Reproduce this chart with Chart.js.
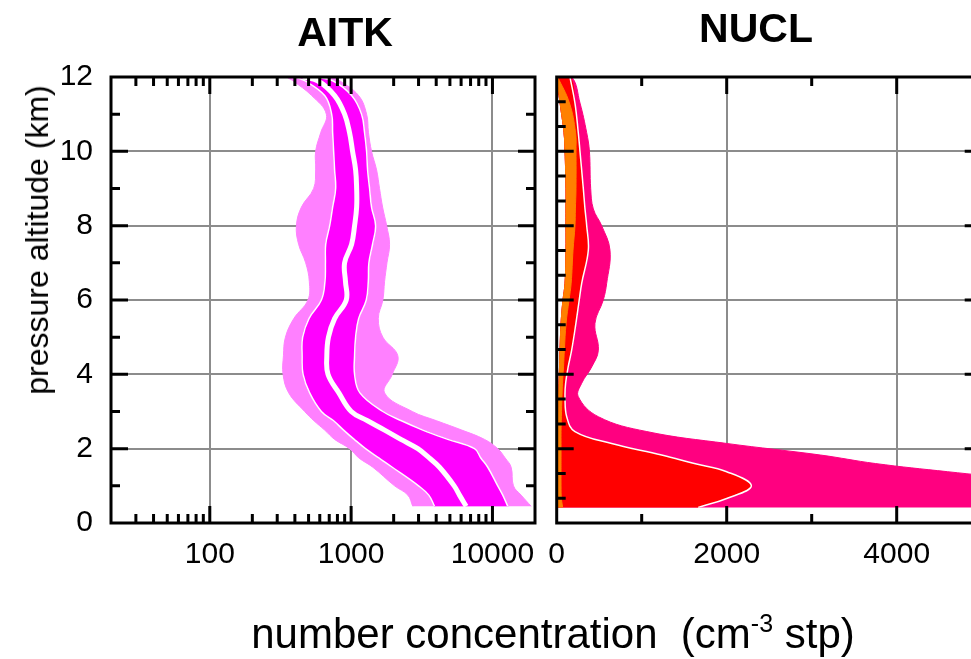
<!DOCTYPE html>
<html>
<head>
<meta charset="utf-8">
<script src="https://cdn.jsdelivr.net/npm/chart.js@4.4.1/dist/chart.umd.min.js"></script>
<style>
  html, body { margin: 0; padding: 0; background: #fff; }
  body {
    width: 971px; height: 659px; overflow: hidden; position: relative;
    font-family: "Liberation Sans", Arial, sans-serif; color: #000;
  }
  canvas { position: absolute; top: 0; }
  #aitk { left: 0; }
  #nucl { left: 530px; }
  .lbl { position: absolute; transform: translate(-50%, -50%); line-height: 1; white-space: nowrap; }
  .panel-title { font-weight: bold; font-size: 41px; }
  #ytitle { font-size: 32px; transform: translate(-50%, -50%) rotate(-90deg); }
  #xtitle { font-size: 42px; }
  #xtitle .sup { font-size: 25px; position: relative; top: -16px; }
</style>
</head>
<body>
<canvas id="aitk" width="550" height="659"></canvas>
<canvas id="nucl" width="468" height="659"></canvas>
<div class="lbl panel-title" style="left:345px;top:32px">AITK</div>
<div class="lbl panel-title" style="left:756px;top:28px">NUCL</div>
<div class="lbl" id="ytitle" style="left:37px;top:240px">pressure altitude (km)</div>
<div class="lbl" id="xtitle" style="left:553px;top:634px">number concentration&nbsp; (cm<span class="sup">-3</span> stp)</div>
<script>
// tick labels
const altTicks = [0, 2, 4, 6, 8, 10, 12];
const aitkTicks = [100, 1000, 10000];
const nuclTicks = [0, 2000, 4000];

// Aitken mode profile: percentiles of number concentration (cm-3 stp) by altitude (km)
const aitkAlt = [0.45, 0.75, 1, 1.5, 1.75, 2, 2.25, 2.5, 2.75, 3, 3.5, 4, 4.5, 5, 5.5, 6, 6.5, 7, 7.5, 8, 8.5, 9, 9.5, 10, 10.5, 11, 11.5, 11.9, 12];
const aitkP10 = [2730, 2520, 2030, 1425, 1135, 975, 764, 650, 546, 469, 362, 330, 332, 343, 393, 495, 506, 477, 425, 410, 445, 543, 561, 561, 609, 668, 526, 387, 355];
const aitkP25 = [3890, 3545, 3000, 1955, 1570, 1265, 1052, 885, 752, 616, 509, 457, 450, 454, 503, 616, 653, 658, 661, 705, 740, 777, 764, 752, 740, 728, 650, 469, 400];
const aitkMedian = [6520, 5845, 5360, 4221, 3570, 2965, 2250, 1725, 1306, 1002, 819, 686, 673, 691, 764, 924, 912, 899, 1008, 1058, 1094, 1094, 1076, 1024, 975, 899, 764, 580, 455];
const aitkP75 = [12830, 11830, 10900, 9265, 8270, 7462, 4830, 3215, 2270, 1677, 1154, 1058, 1058, 1076, 1130, 1280, 1323, 1336, 1418, 1490, 1395, 1351, 1308, 1287, 1245, 1186, 1008, 740, 540];
const aitkP90 = [18780, 15960, 14080, 13560, 12300, 10900, 8781, 6070, 4030, 2710, 1725, 1955, 2140, 1677, 1557, 1677, 1725, 1793, 1871, 1784, 1670, 1589, 1514, 1395, 1327, 1287, 1130, 829, 720];

// nucleation mode profile
const nuclAlt = [0.42, 0.66, 1.0, 1.38, 1.6, 1.83, 2.14, 2.46, 2.86, 3.4, 3.76, 4.2, 4.65, 5.37, 6.0, 6.45, 7.34, 8.0, 8.45, 9.0, 10.0, 10.5, 11.3, 12];
const nuclP10 = [4, 4, 4, 4, 4, 4, 4, 8, 15, 22, 27, 33, 39, 51, 74, 98, 109, 109, 109, 109, 98, 86, 40, 4];
const nuclP25 = [70, 55, 51, 51, 51, 51, 51, 51, 55, 62, 68, 80, 90, 110, 145, 170, 192, 215, 220, 227, 227, 222, 150, 10];
const nuclP75 = [1665, 2000, 2290, 2000, 1620, 1235, 647, 215, 118, 98, 105, 135, 176, 226, 265, 294, 372, 353, 333, 313, 274, 254, 215, 156];
const nuclP90 = [8000, 7500, 6200, 4600, 3750, 3100, 2000, 1060, 490, 254, 294, 412, 490, 450, 548, 588, 627, 529, 431, 400, 385, 353, 274, 176];

const FONT = "'Liberation Sans', Arial, sans-serif";
const GRID = '#8c8c8c';

const pts = (xs, alts) => xs.map((v, i) => ({ x: v, y: alts[i] }));
// closed outline: up the low edge, back down the high edge
const band = (lo, hi, alts) => pts(lo, alts).concat(pts(hi, alts).reverse());

const area = (data, color, order) => ({
  data, order, fill: 'shape', backgroundColor: color, borderColor: color, borderWidth: 1
});
const line = (data, width, color, order) => ({
  data, order, fill: false, borderColor: color, borderWidth: width
});

// frame box plus inward tick marks on all sides
const frame = (marks) => ({
  id: 'frame',
  afterDraw(chart) {
    const { ctx, chartArea: a } = chart;
    const xs = chart.scales.x, ys = chart.scales.y;
    ctx.save();
    ctx.strokeStyle = '#000';
    ctx.lineWidth = 3;
    ctx.beginPath();
    marks.x.forEach(([v, len]) => {
      const px = xs.getPixelForValue(v);
      ctx.moveTo(px, a.top); ctx.lineTo(px, a.top + len);
      ctx.moveTo(px, a.bottom); ctx.lineTo(px, a.bottom - len);
    });
    marks.left.forEach(([v, len]) => {
      const py = ys.getPixelForValue(v);
      ctx.moveTo(a.left, py); ctx.lineTo(a.left + len, py);
    });
    marks.right.forEach(([v, len]) => {
      const py = ys.getPixelForValue(v);
      ctx.moveTo(a.right, py); ctx.lineTo(a.right - len, py);
    });
    ctx.stroke();
    ctx.strokeRect(a.left, a.top, a.right - a.left, a.bottom - a.top);
    ctx.restore();
  }
});

const MAJOR = 17, MINOR = 9;

const logMarks = [];
[10, 100, 1000, 10000].forEach(d => {
  for (let k = 1; k <= 9; k++) {
    const v = k * d;
    if (v > 20 && v < 20000) logMarks.push([v, k === 1 ? MAJOR : MINOR]);
  }
});
const kmMarks = [];
for (let k = 1; k < 12; k++) kmMarks.push([k, k % 2 ? MINOR : MAJOR]);
const thirdMarks = [];
for (let k = 1; k < 18; k++) thirdMarks.push([k * 2 / 3, k % 3 ? MINOR : MAJOR]);

const tickFont = { family: FONT, size: 30 };

const baseOptions = (xScale, yScale, padding) => ({
  responsive: false,
  animation: false,
  events: [],
  layout: { padding },
  elements: { point: { radius: 0 }, line: { tension: 0.4 } },
  plugins: { legend: { display: false }, tooltip: { enabled: false } },
  scales: { x: xScale, y: yScale }
});

new Chart(document.getElementById('aitk'), {
  type: 'line',
  data: {
    datasets: [
      line(pts(aitkMedian, aitkAlt), 5, '#ffffff', 1),
      line(pts(aitkP25, aitkAlt), 1.5, '#ffffff', 2),
      line(pts(aitkP75, aitkAlt), 1.5, '#ffffff', 2),
      area(band(aitkP25, aitkP75, aitkAlt), '#ff00ff', 3),
      area(band(aitkP10, aitkP90, aitkAlt), '#ff80ff', 4)
    ]
  },
  options: baseOptions(
    {
      type: 'logarithmic', min: 20, max: 20000, z: 1,
      border: { display: false },
      grid: {
        drawTicks: false, lineWidth: 2,
        color: c => aitkTicks.includes(c.tick && c.tick.value) ? GRID : 'rgba(0,0,0,0)'
      },
      ticks: {
        autoSkip: false, maxRotation: 0, padding: 14, color: '#000', font: tickFont,
        callback: v => aitkTicks.includes(v) ? String(v) : ''
      },
      afterFit: s => { s.height = 60; }
    },
    {
      type: 'linear', min: 0, max: 12, z: 1,
      border: { display: false },
      grid: {
        drawTicks: false, lineWidth: 2,
        color: c => (c.tick && c.tick.value > 0 && c.tick.value < 12) ? GRID : 'rgba(0,0,0,0)'
      },
      ticks: {
        stepSize: 2, padding: 18, color: '#000', font: tickFont,
        callback: v => altTicks.includes(v) ? String(v) : ''
      },
      afterFit: s => { s.width = 111; }
    },
    { top: 77, right: 15, bottom: 76, left: 0 }
  ),
  plugins: [frame({ x: logMarks, left: kmMarks, right: kmMarks })]
});

new Chart(document.getElementById('nucl'), {
  type: 'line',
  data: {
    datasets: [
      area(band(nuclP10, nuclP25, nuclAlt), '#ff8000', 1),
      line(pts(nuclP75, nuclAlt), 1.5, '#ffffff', 2),
      area(band(nuclP10, nuclP75, nuclAlt), '#ff0000', 3),
      area(band(nuclP10, nuclP90, nuclAlt), '#ff0080', 4)
    ]
  },
  options: baseOptions(
    {
      type: 'linear', min: 0, max: 5000, z: 1,
      border: { display: false },
      grid: {
        drawTicks: false, lineWidth: 2,
        color: c => (c.tick && c.tick.value > 0 && nuclTicks.includes(c.tick.value)) ? GRID : 'rgba(0,0,0,0)'
      },
      ticks: {
        stepSize: 1000, autoSkip: false, maxRotation: 0, padding: 14, color: '#000', font: tickFont,
        callback: v => nuclTicks.includes(v) ? String(v) : ''
      },
      afterFit: s => { s.height = 60; }
    },
    {
      type: 'linear', min: 0, max: 12, z: 1,
      border: { display: false },
      grid: {
        drawTicks: false, lineWidth: 2,
        color: c => (c.tick && c.tick.value > 0 && c.tick.value < 12) ? GRID : 'rgba(0,0,0,0)'
      },
      ticks: { stepSize: 2, display: false },
      afterFit: s => { s.width = 0; }
    },
    { top: 77, right: 16.3, bottom: 76, left: 26.7 }
  ),
  plugins: [frame({
    x: [[1000, MINOR], [2000, MAJOR], [3000, MINOR], [4000, MAJOR]],
    left: thirdMarks,
    right: kmMarks.filter(m => m[1] === MAJOR)
  })]
});
</script>
</body>
</html>
